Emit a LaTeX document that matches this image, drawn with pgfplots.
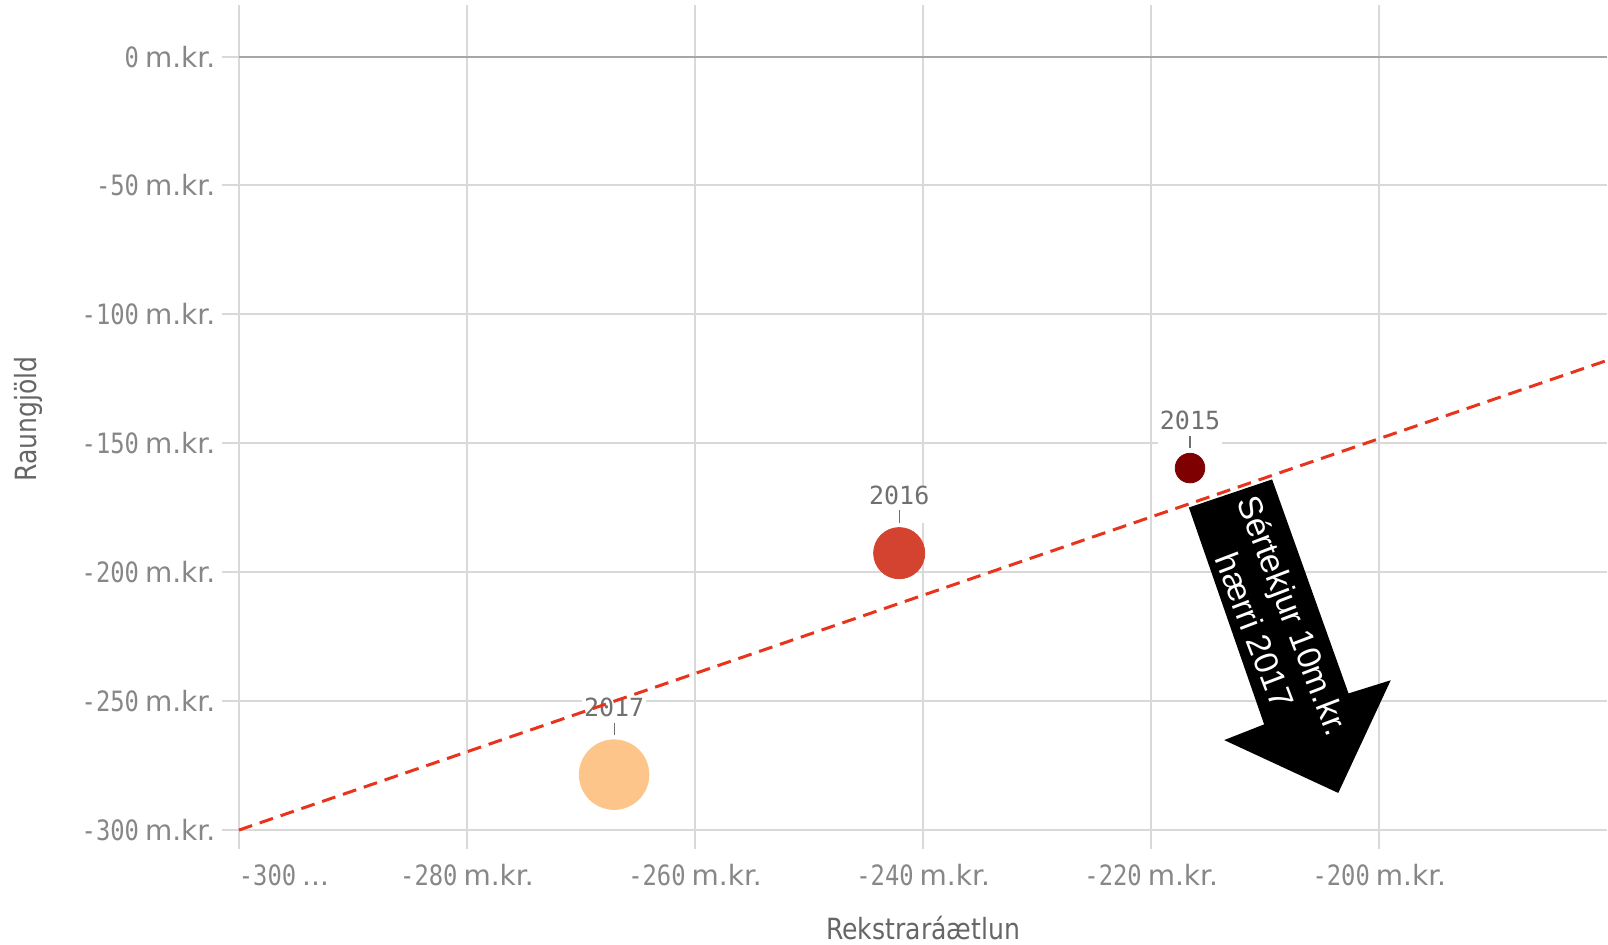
\documentclass[border=0pt]{standalone}
\usepackage{fontspec}
\usepackage{pgfplots}
\pgfplotsset{compat=1.18}
\newfontfamily\tickfont[FakeStretch=0.85]{DejaVu Sans Mono}
\newfontfamily\mkfont{DejaVu Sans}
\newfontfamily\yearfont{DejaVu Sans Mono}
\newfontfamily\labfont[FakeStretch=0.86]{DejaVu Sans}
\newfontfamily\arrfont{Liberation Sans}
\definecolor{gridc}{HTML}{D9D9D9}
\definecolor{zeroc}{HTML}{A6A6A6}
\definecolor{tickc}{HTML}{878787}
\definecolor{labc}{HTML}{666666}
\definecolor{yearc}{HTML}{707070}
\definecolor{c2015}{HTML}{7F0000}
\definecolor{c2016}{HTML}{D4432F}
\definecolor{c2017}{HTML}{FDC58A}
\definecolor{trendc}{HTML}{E8341C}
\newcommand\mk{\hspace{3pt}{\mkfont m.kr.}}
\newcommand\yearlab[1]{\shortstack{#1\\\textcolor{yearc}{\rule{0.6pt}{6.2pt}}}}
\begin{document}
\begin{tikzpicture}
\begin{axis}[
  scale only axis, width=684.2pt, height=413.8pt,
  xmin=-300, xmax=-180, ymin=-301, ymax=20,
  axis line style={draw=none},
  tick pos=left, tick align=outside, major tick length=8.3pt,
  tick style={draw=gridc, line width=1pt},
  grid=major, grid style={draw=gridc, line width=1pt},
  xtick={-300,-280,-260,-240,-220,-200},
  xticklabels={\makebox[0pt][l]{-300\hspace{3pt}{\mkfont...}},-280\mk,-260\mk,-240\mk,-220\mk,-200\mk},
  ytick={-300,-250,-200,-150,-100,-50,0},
  yticklabels={-300\mk,-250\mk,-200\mk,-150\mk,-100\mk,-50\mk,0\mk},
  ticklabel style={font=\fontsize{14}{16}\selectfont\tickfont, text=tickc},
  xticklabel style={anchor=north, yshift=-4pt},
  yticklabel style={anchor=east, xshift=0pt},
  xlabel={Rekstraráætlun},
  ylabel={Raungjöld},
  xlabel style={at={(axis description cs:0.5,-0.1150)}, anchor=center, font=\fontsize{14.6}{16}\selectfont\labfont, text=labc},
  ylabel style={at={(axis description cs:-0.1535,0.5)}, anchor=center, font=\fontsize{14.6}{16}\selectfont\labfont, text=labc},
  clip=false,
]
% zero line
\addplot[draw=zeroc, line width=1pt] coordinates {(-300,0) (-180,0)};
% bubbles
\addplot[only marks, mark=*, mark size=7.4pt, color=c2015] coordinates {(-216.6,-159.6)};
\addplot[only marks, mark=*, mark size=12.8pt, color=c2016] coordinates {(-242.1,-192.6)};
\addplot[only marks, mark=*, mark size=17.4pt, color=c2017] coordinates {(-267.1,-278.5)};
% year labels
\node[anchor=south, yshift=9.6pt, fill=white, inner sep=0pt, inner xsep=1pt, text=yearc, font=\fontsize{12.5}{14}\selectfont\yearfont] at (axis cs:-216.6,-159.6) {\yearlab{2015}};
\node[anchor=south, yshift=15pt, fill=white, inner sep=0pt, inner xsep=1pt, text=yearc, font=\fontsize{12.5}{14}\selectfont\yearfont] at (axis cs:-242.1,-192.6) {\yearlab{2016}};
\node[anchor=south, yshift=19.6pt, fill=white, inner sep=0pt, inner xsep=1pt, text=yearc, font=\fontsize{12.5}{14}\selectfont\yearfont] at (axis cs:-267.1,-278.5) {\yearlab{2017}};
% arrow
\addplot[fill=black, draw=none] coordinates {(-216.7,-174.9) (-209.4,-164.0) (-202.7,-247.0) (-199.0,-241.9) (-203.6,-285.6) (-213.6,-265.1) (-210.1,-259.0) (-216.7,-174.9)} -- cycle;
\node[rotate=-69, text=white, align=center, font=\fontsize{16.8}{20.7}\selectfont\arrfont] at (axis cs:-209.2,-219.7) {Sértekjur 10m.kr.\\hærri 2017};
% trend line
\addplot[draw=trendc, line width=1.5pt, dash pattern=on 7pt off 4pt] coordinates {(-300,-300) (-180,-117.8)};
\end{axis}
\pgfresetboundingbox
\useasboundingbox (-119.45pt,-55.75pt) rectangle (684.5pt,416.3pt);
\end{tikzpicture}
\end{document}
